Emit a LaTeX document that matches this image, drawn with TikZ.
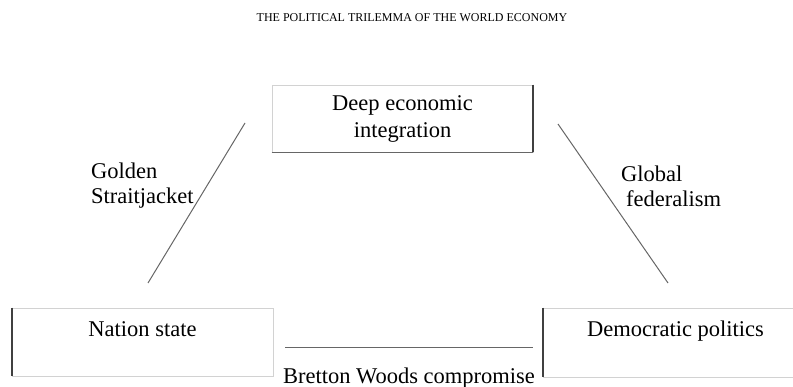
\documentclass[tikz,border=0pt]{standalone}
\usepackage{fontspec}
\setmainfont{Liberation Serif}
\usetikzlibrary{positioning}
\tikzset{box node/.style={rectangle,draw=gray!35,line width=0.8pt,inner sep=0pt,font=\fontsize{22.5}{27}\selectfont}}
\tikzset{side node/.style={inner sep=0pt,align=left,font=\fontsize{22.5}{25}\selectfont}}
\tikzset{thick edge/.style={draw=black!75,line width=2pt}}
\tikzset{leg/.style={draw=black!60,line width=1pt}}

\begin{document}
\begin{tikzpicture}[x=1pt,y=-1pt]
    \useasboundingbox (0,0) rectangle (793,387);
    \node[inner sep=0pt,font=\fontsize{12}{14}\selectfont] (title) at (412,18) {THE POLITICAL TRILEMMA OF THE WORLD ECONOMY};

    \node[box node,minimum width=261pt,minimum height=67pt,align=center] (integration) at (402.5,118.5) {Deep economic\\integration};
    \node[box node,minimum width=261pt,minimum height=68pt,text height=29pt,text depth=39pt] (nation) at (142.5,342) {Nation state};
    \node[box node,minimum width=265pt,minimum height=69pt,text height=29pt,text depth=40pt] (democracy) at (675.5,342.5) {Democratic politics};

    % heavier sides of the boxes
    \draw[thick edge] (integration.north east) -- (integration.south east);
    \draw[draw=black!60,line width=1.2pt] (integration.south west) -- (integration.south east);
    \draw[thick edge] (nation.north west) -- (nation.south west);
    \draw[thick edge] (democracy.north west) -- (democracy.south west);

    % legs of the triangle
    \coordinate (golden top) at (245,123);
    \coordinate (golden bottom) at (148,283);
    \coordinate (global top) at (558,124);
    \coordinate (global bottom) at (668,283);
    \coordinate (bretton left) at (285,348);
    \coordinate (bretton right) at (533,348);
    \draw[leg] (golden top) -- (golden bottom);
    \draw[leg] (global top) -- (global bottom);
    \draw[leg] (bretton left) -- (bretton right);

    \node[side node,anchor=west] (golden) at (91,186) {Golden\\Straitjacket};
    \node[side node,anchor=west] (global) at (621,186) {Global\\\hspace{5pt}federalism};
    \node[side node] (bretton) at (409,378) {Bretton Woods compromise};
\end{tikzpicture}
\end{document}
